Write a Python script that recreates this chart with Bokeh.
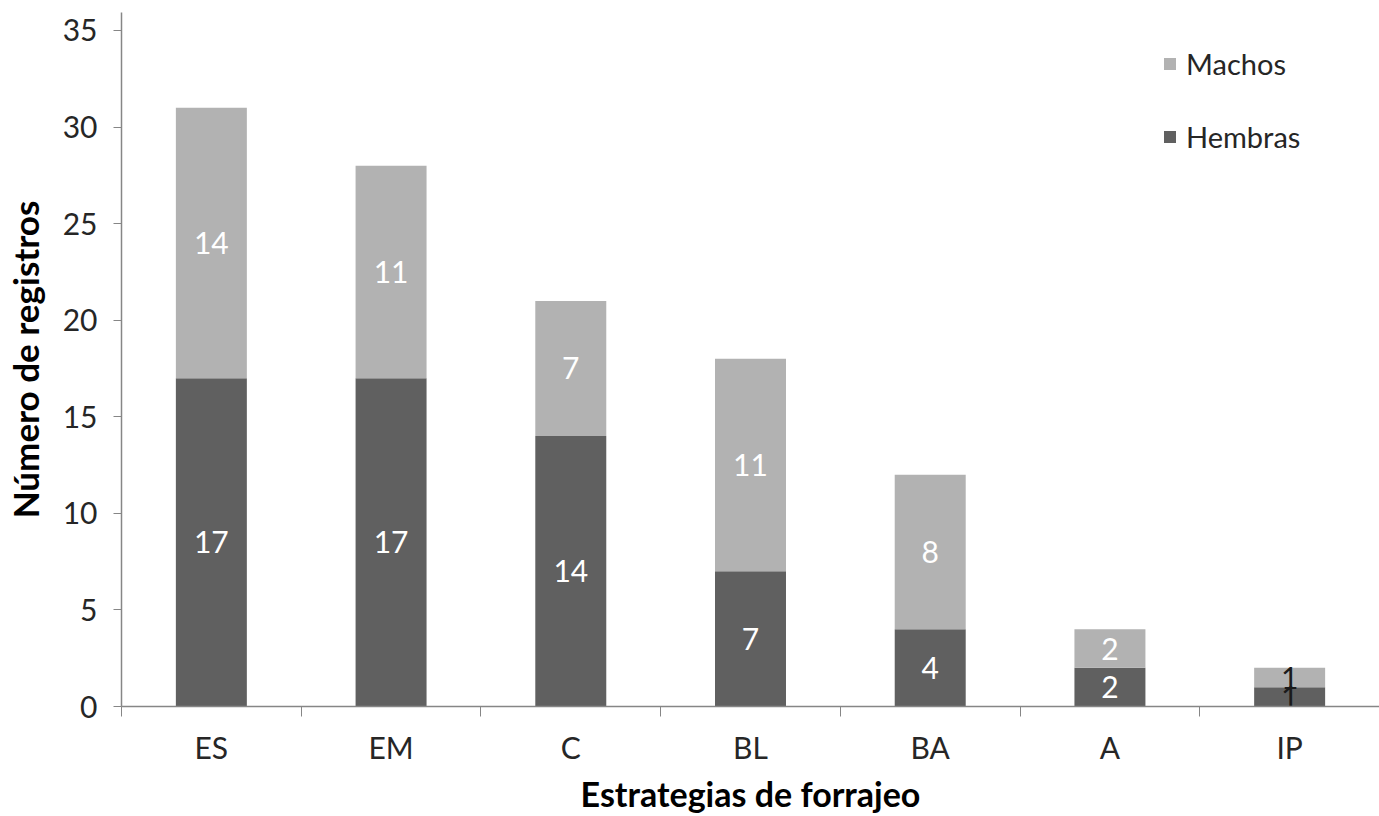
from bokeh.plotting import figure
from bokeh.models import (ColumnDataSource, FixedTicker, Range1d, Legend, LegendItem)
from bokeh.core.properties import value
from bokeh.embed import file_html
from bokeh.resources import INLINE

# Foraging strategies and record counts by sex
strategies = ["ES", "EM", "C", "BL", "BA", "A", "IP"]
hembras = [17, 17, 14, 7, 4, 2, 1]
machos = [14, 11, 7, 11, 8, 2, 1]

FONT = "Lato"
DARK = "#606060"
LIGHT = "#b2b2b2"

xs = [i + 0.5 for i in range(len(strategies))]

src = ColumnDataSource(dict(
    x=xs,
    h_top=list(hembras),
    m_top=[h + m for h, m in zip(hembras, machos)],
    h_mid=[h / 2 for h in hembras],
    m_mid=[h + m / 2 for h, m in zip(hembras, machos)],
    h_lbl=[str(v) for v in hembras],
    m_lbl=[str(v) for v in machos],
    h_col=["white" if v > 1 else "#1a1a1a" for v in hembras],
    m_col=["white" if v > 1 else "#1a1a1a" for v in machos],
))

p = figure(width=1379, height=816, output_backend="svg", toolbar_location=None,
           x_range=Range1d(0, len(strategies)), y_range=Range1d(0, 35.93),
           min_border_left=121, min_border_right=0, min_border_top=12,
           min_border_bottom=110)
p.outline_line_color = None
p.xgrid.grid_line_color = None
p.ygrid.grid_line_color = None
p.background_fill_color = "white"
p.border_fill_color = "white"

bw = 0.395
r_h = p.vbar(x="x", bottom=0, top="h_top", width=bw, source=src,
             fill_color=DARK, line_color=None)
r_m = p.vbar(x="x", bottom="h_top", top="m_top", width=bw, source=src,
             fill_color=LIGHT, line_color=None)

p.text(x="x", y="h_mid", text="h_lbl", source=src, text_color="h_col",
       text_align="center", text_baseline="middle",
       text_font=value(FONT), text_font_size="30px")
p.text(x="x", y="m_mid", text="m_lbl", source=src, text_color="m_col",
       text_align="center", text_baseline="middle",
       text_font=value(FONT), text_font_size="30px")

# x axis: labels at category centres, tick marks at category boundaries
xa = p.xaxis[0]
xa.ticker = FixedTicker(ticks=xs, minor_ticks=list(range(len(strategies) + 1)))
xa.major_label_overrides = {x: s for x, s in zip(xs, strategies)}
xa.major_tick_out = 0
xa.major_tick_in = 0
xa.minor_tick_out = 10
xa.minor_tick_in = 0
xa.minor_tick_line_color = "#868686"
xa.axis_line_color = "#868686"
xa.axis_line_width = 1.5
xa.major_label_text_font = FONT
xa.major_label_text_font_size = "30px"
xa.major_label_text_color = "#262626"
xa.major_label_standoff = 12
xa.axis_label = "Estrategias de forrajeo"
xa.axis_label_text_font = FONT
xa.axis_label_text_font_size = "34px"
xa.axis_label_text_font_style = "bold"
xa.axis_label_text_color = "black"
xa.axis_label_standoff = 5

ya = p.yaxis[0]
ya.ticker = FixedTicker(ticks=[0, 5, 10, 15, 20, 25, 30, 35], minor_ticks=[])
ya.major_tick_out = 8
ya.major_tick_in = 0
ya.major_tick_line_color = "#868686"
ya.axis_line_color = "#868686"
ya.axis_line_width = 1.5
ya.major_label_text_font = FONT
ya.major_label_text_font_size = "30px"
ya.major_label_text_color = "#262626"
ya.major_label_standoff = 16
ya.axis_label = "Número de registros"
ya.axis_label_text_font = FONT
ya.axis_label_text_font_size = "35px"
ya.axis_label_text_font_style = "bold"
ya.axis_label_text_color = "black"
ya.axis_label_standoff = 14

legend = Legend(items=[LegendItem(label="Machos", renderers=[r_m]),
                       LegendItem(label="Hembras", renderers=[r_h])],
                location=(1041, 552))
legend.border_line_color = None
legend.background_fill_alpha = 0
legend.label_text_font = FONT
legend.label_text_font_size = "29px"
legend.label_text_color = "#262626"
legend.glyph_width = 15
legend.glyph_height = 15
legend.label_height = 30
legend.spacing = 38
legend.padding = 0
legend.margin = 0
legend.label_standoff = 9
p.add_layout(legend, "center")

open("out.html", "w").write(file_html(p, INLINE))
